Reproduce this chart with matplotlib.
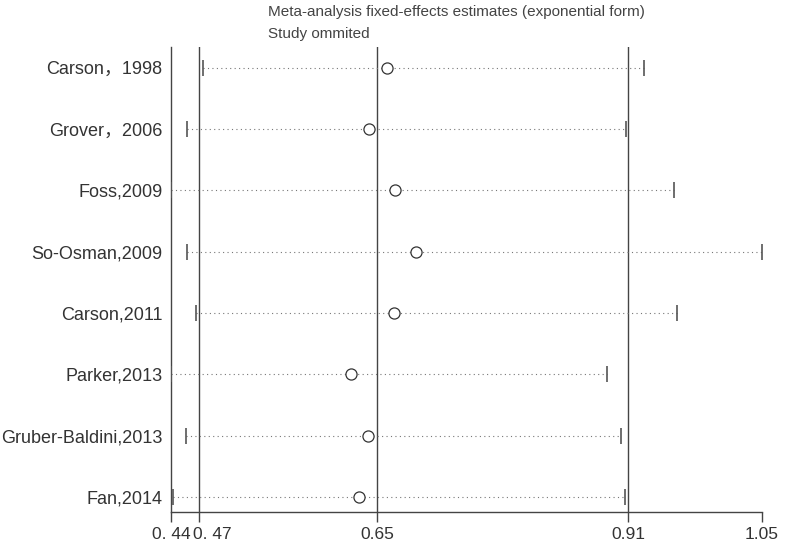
"""Influence analysis plot (study omitted) - fixed effects, exponential form."""

import matplotlib
matplotlib.use("Agg")
import matplotlib.pyplot as plt
import matplotlib.transforms as mtransforms
import numpy as np

# --------------------------------------------------------------------------- #
# Dati
# --------------------------------------------------------------------------- #
studies = ["Carson\uff0c1998", "Grover\uff0c2006", "Foss,2009", "So-Osman,2009",
           "Carson,2011", "Parker,2013", "Gruber-Baldini,2013", "Fan,2014"]
estimate = [0.663, 0.644, 0.671, 0.693, 0.670, 0.626, 0.643, 0.634]
lower = [0.473, 0.4565, 0.440, 0.4565, 0.466, 0.440, 0.455, 0.442]
upper = [0.928, 0.910, 0.959, 1.050, 0.962, 0.890, 0.904, 0.909]

overall = [0.469, 0.653, 0.912]          # lower CI, estimate, upper CI
tick_vals = [0.44, 0.469, 0.653, 0.912, 1.05]
tick_labels = ["0. 44", "0. 47", "0.65", "0.91", "1.05"]

plt.rcParams["font.family"] = ["Liberation Sans", "Noto Sans CJK SC", "DejaVu Sans"]

fig = plt.figure(figsize=(7.87, 5.42), dpi=100)
ax = fig.add_axes([0.2173, 0.0554, 0.751, 0.858])

n = len(studies)
ypos = np.arange(n, 0, -1)

for x in overall:
    ax.axvline(x, color="#444444", lw=1.0, zorder=1)

for y, lo, est, hi in zip(ypos, lower, estimate, upper):
    ax.plot([lo, hi], [y, y], color="#777777", lw=0.8, ls=(0, (1, 3)), zorder=2)
    ax.plot([lo, hi], [y, y], ls="none", marker="|", ms=11, mew=1.2,
            color="#555555", zorder=3)
    ax.plot(est, y, ls="none", marker="o", ms=8, mfc="white", mec="#333333",
            mew=0.9, zorder=4)

ax.set_xlim(0.44, 1.05)
ax.set_ylim(0.755, 8.34)
ax.set_yticks(ypos, studies)
ax.tick_params(axis="y", length=0, pad=6, labelsize=13, labelcolor="#333333")
ax.set_xticks(tick_vals, tick_labels)
ax.tick_params(axis="x", length=7, width=1.0, color="#444444", labelsize=12.5,
               labelcolor="#333333", pad=4)

# le prime due etichette sono vicine: sposta 0.44 a sinistra e 0.47 a destra
xlabs = ax.get_xticklabels()
xlabs[0].set_ha("right")
xlabs[0].set_transform(xlabs[0].get_transform()
                       + mtransforms.ScaledTranslation(20 / 100, 0, fig.dpi_scale_trans))
xlabs[1].set_ha("left")
xlabs[1].set_transform(xlabs[1].get_transform()
                       + mtransforms.ScaledTranslation(-6 / 100, 0, fig.dpi_scale_trans))

for side in ("top", "right"):
    ax.spines[side].set_visible(False)
for side in ("left", "bottom"):
    ax.spines[side].set_color("#444444")
    ax.spines[side].set_linewidth(1.0)

fig.text(268 / 787, 1 - 12 / 542, "Meta-analysis fixed-effects estimates (exponential form)",
         fontsize=11, color="#444444", va="center", ha="left")
fig.text(268 / 787, 1 - 34 / 542, "Study ommited",
         fontsize=11, color="#444444", va="center", ha="left")

fig.savefig("out.png", dpi=100)
